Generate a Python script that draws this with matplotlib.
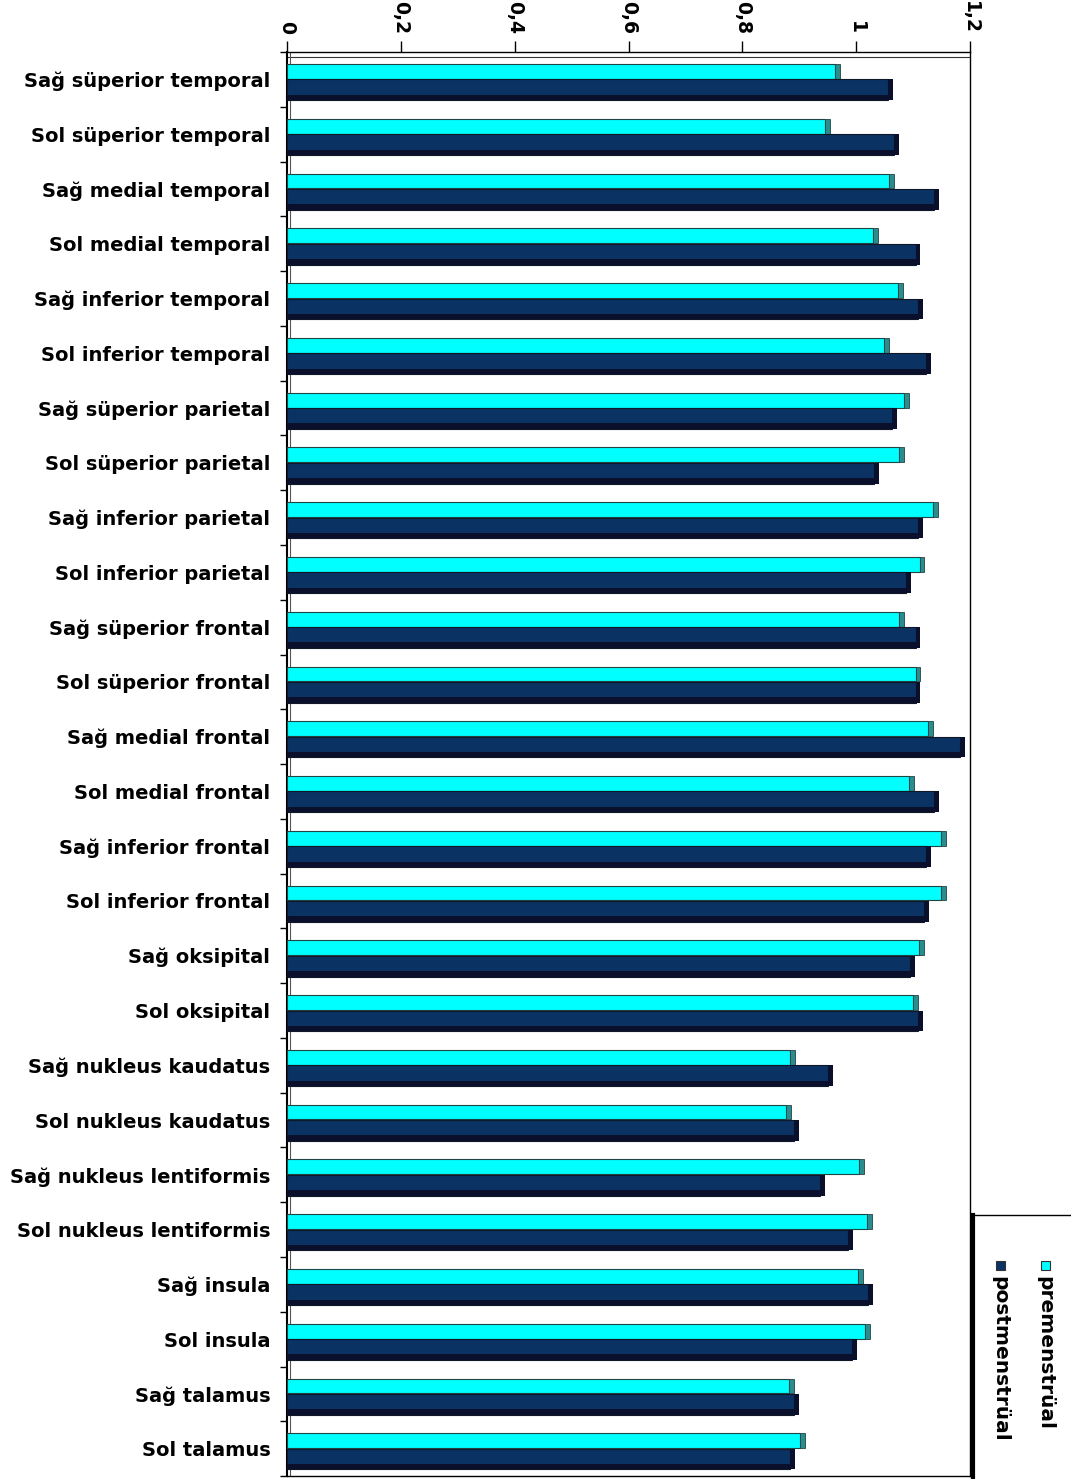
import matplotlib.pyplot as plt
from matplotlib.patches import Rectangle
import numpy as np

plt.rcParams['font.family'] = ['DejaVu Sans']

regions = [
    'Sağ süperior temporal', 'Sol süperior temporal', 'Sağ medial temporal',
    'Sol medial temporal', 'Sağ inferior temporal', 'Sol inferior temporal',
    'Sağ süperior parietal', 'Sol süperior parietal', 'Sağ inferior parietal',
    'Sol inferior parietal', 'Sağ süperior frontal', 'Sol süperior frontal',
    'Sağ medial frontal', 'Sol medial frontal', 'Sağ inferior frontal',
    'Sol inferior frontal', 'Sağ oksipital', 'Sol oksipital',
    'Sağ nukleus kaudatus', 'Sol nukleus kaudatus', 'Sağ nukleus lentiformis',
    'Sol nukleus lentiformis', 'Sağ insula', 'Sol insula', 'Sağ talamus',
    'Sol talamus',
]
premenstrual = [0.963, 0.946, 1.058, 1.030, 1.074, 1.049, 1.084, 1.076, 1.135,
                1.112, 1.076, 1.105, 1.127, 1.093, 1.149, 1.149, 1.111, 1.100,
                0.884, 0.877, 1.005, 1.019, 1.004, 1.016, 0.882, 0.902]
postmenstrual = [1.056, 1.067, 1.137, 1.105, 1.109, 1.123, 1.063, 1.032, 1.109,
                 1.088, 1.105, 1.105, 1.183, 1.137, 1.123, 1.120, 1.095, 1.109,
                 0.951, 0.891, 0.937, 0.986, 1.021, 0.993, 0.891, 0.884]
series = ['premenstrüal', 'postmenstrüal']
xticks = [0, 0.2, 0.4, 0.6, 0.8, 1.0, 1.2]
xtick_labels = ['0', '0,2', '0,4', '0,6', '0,8', '1', '1,2']

CYAN, CYAN_SIDE = '#00FFFF', '#2a8c8c'
NAVY, NAVY_DARK = '#0a3263', '#0a0f2c'

fig = plt.figure(figsize=(10.71, 14.79), dpi=100)
ax = fig.add_axes([0.268, 0.002, 0.6377, 0.9628])

y = np.arange(len(regions))
pre = np.array(premenstrual)
post = np.array(postmenstrual)
depth = 0.008

# cyan bars with a small side face
ax.barh(y - 0.145, pre, height=0.27, color=CYAN, edgecolor='#1f4545', lw=0.8, zorder=3)
ax.barh(y - 0.145, depth, left=pre, height=0.27, color=CYAN_SIDE, edgecolor='#1f4545', lw=0.6, zorder=3)

# navy bars with darker lower strip
ax.barh(y + 0.19, post, height=0.38, color=NAVY, edgecolor='#101828', lw=0.8, zorder=3)
ax.barh(y + 0.33, post, height=0.10, color=NAVY_DARK, lw=0, zorder=4)
ax.barh(y + 0.19, depth, left=post, height=0.38, color=NAVY_DARK, lw=0, zorder=4)

ax.set_xlim(0, 1.2)
ax.set_ylim(len(regions) - 0.5, -0.5)

ax.xaxis.tick_top()
ax.set_xticks(xticks)
ax.set_xticklabels(xtick_labels, rotation=-90, fontsize=13.5, fontweight='bold')
ax.tick_params(axis='x', length=8, width=1, pad=5)

ax.set_yticks(y)
ax.set_yticklabels(regions, fontsize=14, fontweight='bold')
ax.tick_params(axis='y', length=0, pad=12)
ax.set_yticks(np.arange(len(regions) + 1) - 0.5, minor=True)
ax.tick_params(axis='y', which='minor', length=5, width=1)

for s in ax.spines.values():
    s.set_color('black')
    s.set_linewidth(1)
ax.spines['left'].set_linewidth(1.5)

# 3D wall/floor lines
ax.axhline(-0.41, color='#333333', lw=0.8, zorder=2)
ax.axvline(0.006, color='#555555', lw=0.8, zorder=2)

# legend (rotated, drawn by hand)
lx, ltop = 973 / 1071, 1 - 1215 / 1479
fig.patches.append(Rectangle((lx, -0.01), 0.2, ltop + 0.01, transform=fig.transFigure,
                             facecolor='white', edgecolor='black', lw=1, zorder=5))
fig.add_artist(plt.Line2D([lx, lx], [0, ltop], transform=fig.transFigure,
                          color='black', lw=3, zorder=6))
colors = [CYAN, NAVY]
for name, col, xp in zip(series, colors, [1045, 1000]):
    fx = xp / 1071
    fig.patches.append(Rectangle((fx - 4.5 / 1071, 1 - 1270 / 1479), 9 / 1071, 9 / 1479,
                                 transform=fig.transFigure, facecolor=col,
                                 edgecolor='#333333', lw=0.8, zorder=6))
    fig.text(fx, 1 - 1276 / 1479, name, rotation=-90, ha='center', va='top',
             fontsize=14.5, fontweight='bold', zorder=7)

fig.savefig('out.png', dpi=100, facecolor='white')
